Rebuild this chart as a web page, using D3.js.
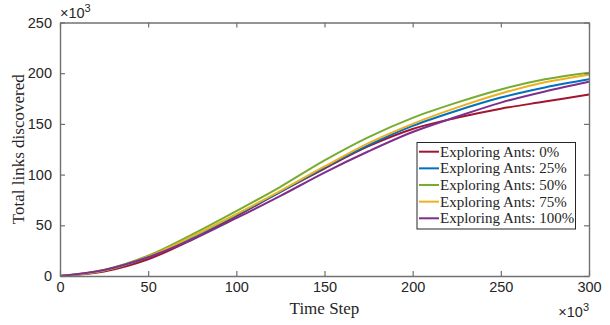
<!DOCTYPE html>
<html><head><meta charset="utf-8">
<script src="https://cdn.jsdelivr.net/npm/d3@7"></script>
<style>body{margin:0;background:#fff}svg{display:block}</style>
</head><body>
<svg id="c" width="610" height="325"></svg>
<script>
const steps = [0, 25, 50, 75, 100, 125, 150, 175, 200, 225, 250, 275, 300];
const xTicks = [0, 50, 100, 150, 200, 250, 300];
const yTicks = [0, 50, 100, 150, 200, 250];
const seriesNames = ["Exploring Ants: 0%", "Exploring Ants: 25%", "Exploring Ants: 50%", "Exploring Ants: 75%", "Exploring Ants: 100%"];
const ants0   = [0, 4.5, 16.5, 36, 59, 83, 106, 128, 145, 156, 165, 172, 179];
const ants25  = [0, 5.5, 18.5, 38, 60, 83, 107, 129, 148, 163, 176, 186, 194];
const ants50  = [0, 6, 20, 41, 64, 88, 114, 137, 156, 171, 184, 194, 200.5];
const ants75  = [0, 5.5, 19, 39, 61, 84, 108, 131, 150, 166, 180, 191, 198.5];
const ants100 = [0, 6, 18.5, 36, 57, 79, 102, 123, 142, 157, 171, 182, 191.5];
const colors = ["#A2142F", "#0072BD", "#77AC30", "#EDB120", "#7E2F8E"];
const seriesValues = [ants0, ants25, ants50, ants75, ants100];

const svg = d3.select("#c");
const L = 60, R = 589, T = 22.5, B = 276;
const x = d3.scaleLinear().domain([0, 300]).range([L, R]);
const y = d3.scaleLinear().domain([0, 250]).range([B, T]);
const axisCol = "#707070";
const textCol = "#262626";
const tickFont = "'Liberation Sans', Arial, sans-serif";
const serif = "'Liberation Serif', 'Times New Roman', serif";

// lines
const line = d3.line().x((d, i) => x(steps[i])).y(d => y(d)).curve(d3.curveCatmullRom.alpha(0.5));
const g = svg.append("g");
seriesValues.forEach((vals, k) => {
  g.append("path").attr("d", line(vals)).attr("fill", "none")
    .attr("stroke", colors[k]).attr("stroke-width", 2);
});

// axes
function styleAxis(sel) {
  sel.selectAll("path.domain").attr("stroke", axisCol).attr("stroke-width", 1.4);
  sel.selectAll(".tick line").attr("stroke", axisCol).attr("stroke-width", 1.2);
  sel.selectAll("text").attr("fill", textCol).style("font-family", tickFont).style("font-size", "14.5px");
}
const xb = svg.append("g").attr("transform", `translate(0,${B})`)
  .call(d3.axisBottom(x).tickValues(xTicks).tickSizeInner(-5).tickSizeOuter(0).tickPadding(6));
styleAxis(xb);
const xt = svg.append("g").attr("transform", `translate(0,${T})`)
  .call(d3.axisTop(x).tickValues(xTicks).tickSizeInner(-5).tickSizeOuter(0).tickFormat(""));
styleAxis(xt);
const yl = svg.append("g").attr("transform", `translate(${L},0)`)
  .call(d3.axisLeft(y).tickValues(yTicks).tickSizeInner(-5).tickSizeOuter(0).tickPadding(8));
styleAxis(yl);
const yr = svg.append("g").attr("transform", `translate(${R},0)`)
  .call(d3.axisRight(y).tickValues(yTicks).tickSizeInner(-5).tickSizeOuter(0).tickFormat(""));
styleAxis(yr);

// exponent labels
function expo(xp, yp, anchor) {
  const t = svg.append("text").attr("x", xp).attr("y", yp).attr("text-anchor", anchor)
    .style("font-family", tickFont).style("font-size", "14.5px").attr("fill", textCol);
  t.append("tspan").text("×10");
  t.append("tspan").attr("dy", -6).style("font-size", "11px").text("3");
}
expo(L, 18, "start");
expo(R, 317, "end");

// axis titles
svg.append("text").attr("x", (L + R) / 2).attr("y", 314).attr("text-anchor", "middle")
  .style("font-family", serif).style("font-size", "17px").attr("fill", textCol).text("Time Step");
svg.append("text").attr("transform", `translate(24,${(T + B) / 2}) rotate(-90)`).attr("text-anchor", "middle")
  .style("font-family", serif).style("font-size", "17px").attr("fill", textCol).text("Total links discovered");

// legend
const lg = svg.append("g");
lg.append("rect").attr("x", 417).attr("y", 142.5).attr("width", 158.5).attr("height", 86.5)
  .attr("fill", "#fff").attr("stroke", textCol).attr("stroke-width", 1);
seriesNames.forEach((name, k) => {
  const yy = 151.7 + k * 16.65;
  lg.append("line").attr("x1", 419).attr("x2", 439).attr("y1", yy).attr("y2", yy)
    .attr("stroke", colors[k]).attr("stroke-width", 2);
  lg.append("text").attr("x", 440).attr("y", yy + 5).style("font-family", serif)
    .style("font-size", "15px").attr("fill", textCol).text(name);
});
</script>
</body></html>
